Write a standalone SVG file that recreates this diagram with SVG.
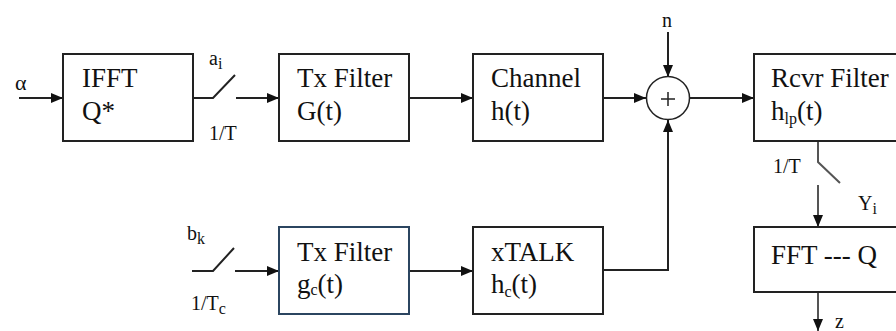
<svg xmlns="http://www.w3.org/2000/svg" width="896" height="331" viewBox="0 0 896 331" font-family="'Liberation Serif', 'DejaVu Serif', 'Times New Roman', serif">
<defs>
<marker id="ah" viewBox="0 0 12 10" refX="12" refY="5" markerWidth="12" markerHeight="10" markerUnits="userSpaceOnUse" orient="auto">
<path d="M0,0 L12,5 L0,10 Z" fill="#111"/>
</marker>
<style>
.box{fill:#fff;stroke:#222;stroke-width:2}
.bbox{fill:#fff;stroke:#2b4560;stroke-width:2}
.ln{fill:none;stroke:#222;stroke-width:2}
.gl{fill:none;stroke:#555;stroke-width:2}
.ar{marker-end:url(#ah)}
text{font-family:'Liberation Serif','DejaVu Serif','Times New Roman',serif;font-size:27px;fill:#111}
.sm{font-size:20px}
.sub{font-size:16px}
</style>
</defs>
<rect width="896" height="331" fill="#fff"/>
<g id="connectors">
<line class="ln ar" x1="19" y1="98" x2="63" y2="98"/>
<polyline class="ln" points="193,98 213,98 235,75"/>
<line class="ln ar" x1="236" y1="98" x2="279" y2="98"/>
<line class="ln ar" x1="409" y1="98" x2="473" y2="98"/>
<line class="ln ar" x1="603" y1="98" x2="646" y2="98"/>
<line class="ln ar" x1="668" y1="32" x2="668" y2="77"/>
<line class="ln ar" x1="690" y1="98" x2="754" y2="98"/>
<polyline class="ln ar" points="603,270 668,270 668,120"/>
<polyline class="ln" points="192,271 213,271 234,248"/>
<line class="ln ar" x1="235" y1="271" x2="279" y2="271"/>
<line class="ln ar" x1="409" y1="271" x2="473" y2="271"/>
<polyline class="gl" points="818,141 818,162 840,183"/>
<line class="gl ar" x1="818" y1="185" x2="818" y2="227"/>
<line class="gl ar" x1="818" y1="292" x2="818" y2="331"/>
</g>
<g id="labels">
<text x="15" y="90" style="font-size:22px">α</text>
<text x="209" y="65" class="sm">a<tspan class="sub" dy="4">i</tspan></text>
<text x="209" y="140" class="sm">1/T</text>
<text x="662" y="27" class="sm">n</text>
<text x="187" y="240" class="sm">b<tspan class="sub" dy="4">k</tspan></text>
<text x="191" y="310" class="sm">1/T<tspan class="sub" dy="4">c</tspan></text>
<text x="773" y="173" class="sm">1/T</text>
<text x="858" y="210" class="sm">Y<tspan class="sub" dy="4">i</tspan></text>
<text x="835" y="328" class="sm">z</text>
</g>
<g id="ifft">
<rect class="box" x="63" y="54" width="130" height="87"/>
<text x="82" y="87">IFFT</text>
<text x="82" y="120">Q*</text>
</g>
<g id="txfilter">
<rect class="box" x="279" y="54" width="130" height="87"/>
<text x="297" y="87">Tx Filter</text>
<text x="297" y="120">G(t)</text>
</g>
<g id="channel">
<rect class="box" x="473" y="54" width="130" height="87"/>
<text x="491" y="87">Channel</text>
<text x="491" y="120">h(t)</text>
</g>
<g id="sum">
<circle cx="668" cy="98" r="21.5" fill="#fff" stroke="#222" stroke-width="1.5"/>
<path d="M661,99 H675 M668,92 V106" stroke="#222" stroke-width="1.5"/>
</g>
<g id="rcvr">
<rect class="box" x="754" y="54" width="150" height="87"/>
<text x="771" y="87">Rcvr Filter</text>
<text x="771" y="120">h<tspan class="sub" dy="4">lp</tspan><tspan dy="-4">(t)</tspan></text>
</g>
<g id="txfilter2">
<rect class="bbox" x="279" y="227" width="130" height="87"/>
<text x="297" y="261">Tx Filter</text>
<text x="297" y="293">g<tspan class="sub" dy="2">c</tspan><tspan dy="-2">(t)</tspan></text>
</g>
<g id="xtalk">
<rect class="box" x="473" y="227" width="130" height="87"/>
<text x="491" y="261">xTALK</text>
<text x="491" y="293">h<tspan class="sub" dy="4">c</tspan><tspan dy="-4">(t)</tspan></text>
</g>
<g id="fft">
<rect class="box" x="754" y="227" width="150" height="65"/>
<text x="771" y="264">FFT --- Q</text>
</g>
</svg>
